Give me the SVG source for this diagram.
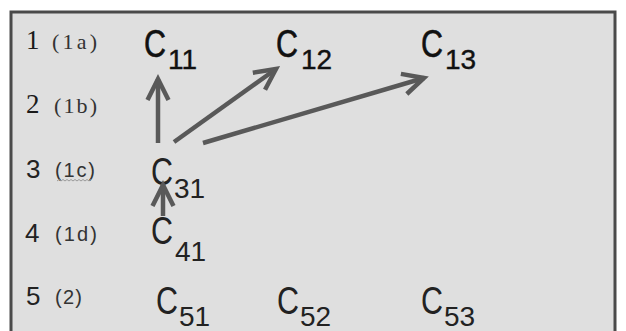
<svg xmlns="http://www.w3.org/2000/svg" width="626" height="331" viewBox="0 0 626 331">
<defs>
<style>
.num{font-family:"Liberation Sans",Arial,sans-serif;font-size:26px;fill:#222}
.numS{font-family:"Liberation Serif","Times New Roman",serif;font-size:27px;fill:#1a1a1a}
.lab{font-family:"Liberation Sans",Arial,sans-serif;font-size:20px;fill:#333}
.labS{font-family:"Liberation Serif","Times New Roman",serif;font-size:22px;fill:#333}
.c{font-family:"Liberation Sans",Arial,sans-serif;font-size:38px;fill:#222}
.c1{font-family:"Liberation Sans",Arial,sans-serif;font-size:39px;fill:#111;stroke:#111;stroke-width:0.6}
.sub{font-family:"Liberation Sans",Arial,sans-serif;font-size:28px;fill:#222}
.sub1{font-family:"Liberation Sans",Arial,sans-serif;font-size:28px;fill:#111;stroke:#111;stroke-width:0.4}
.arr{fill:none;stroke:#595959;stroke-width:4.5;marker-end:url(#head)}
</style>
<marker id="head" markerUnits="userSpaceOnUse" refX="0" refY="0" orient="auto" overflow="visible" markerWidth="30" markerHeight="30">
<path d="M-21,-10.5 L0,0 L-21,10.5" fill="none" stroke="#595959" stroke-width="4.5" stroke-linejoin="miter" stroke-miterlimit="10"/>
</marker>
</defs>
<rect x="0" y="0" width="626" height="331" fill="#ffffff"/>
<rect x="11" y="12" width="604" height="345" fill="#dfdfdf" stroke="#4a4a4a" stroke-width="3"/>

<g id="row-labels">
<text class="numS" x="26" y="49">1</text><text class="labS" x="52" y="49" textLength="45" lengthAdjust="spacing">(1a)</text>
<text class="numS" x="26" y="113">2</text><text class="labS" x="54" y="113" textLength="43" lengthAdjust="spacing">(1b)</text>
<text class="num" x="26" y="178">3</text><text class="lab" x="55" y="177" textLength="40" lengthAdjust="spacing">(1c)</text>
<path d="M57,181 l2,-1.5 l2,1.5 l2,-1.5 l2,1.5 l2,-1.5 l2,1.5 l2,-1.5 l2,1.5 l2,-1.5 l2,1.5 l2,-1.5 l2,1.5 l2,-1.5 l2,1.5 l2,-1.5 l2,1.5 l2,-1.5" fill="none" stroke="#9a9a9a" stroke-width="1"/>
<text class="num" x="25" y="242">4</text><text class="lab" x="55" y="241" textLength="42" lengthAdjust="spacing">(1d)</text>
<text class="num" x="26" y="305">5</text><text class="lab" x="55" y="304" textLength="27" lengthAdjust="spacing">(2)</text>
</g>

<g id="C11"><text class="c1" x="144" y="57" textLength="22" lengthAdjust="spacingAndGlyphs">C</text><text class="sub1" x="168" y="69">11</text></g>
<g id="C12"><text class="c1" x="276" y="57" textLength="22" lengthAdjust="spacingAndGlyphs">C</text><text class="sub1" x="301" y="69">12</text></g>
<g id="C13"><text class="c1" x="421" y="57" textLength="22" lengthAdjust="spacingAndGlyphs">C</text><text class="sub1" x="445" y="69">13</text></g>
<g id="C31"><text class="c" x="151" y="185" textLength="22" lengthAdjust="spacingAndGlyphs">C</text><text class="sub" x="174" y="198">31</text></g>
<g id="C41"><text class="c" x="151" y="244" textLength="22" lengthAdjust="spacingAndGlyphs">C</text><text class="sub" x="175" y="261">41</text></g>
<g id="C51"><text class="c" x="156" y="314" textLength="22" lengthAdjust="spacingAndGlyphs">C</text><text class="sub" x="179" y="326">51</text></g>
<g id="C52"><text class="c" x="277" y="314" textLength="22" lengthAdjust="spacingAndGlyphs">C</text><text class="sub" x="300" y="326">52</text></g>
<g id="C53"><text class="c" x="421" y="314" textLength="22" lengthAdjust="spacingAndGlyphs">C</text><text class="sub" x="444" y="326">53</text></g>

<g id="connectors">
<line class="arr" x1="158" y1="143" x2="158" y2="79"/>
<line class="arr" x1="174" y1="142" x2="276" y2="69"/>
<line class="arr" x1="203" y1="143" x2="424" y2="78"/>
<line class="arr" x1="163" y1="216" x2="163" y2="185"/>
</g>
</svg>
